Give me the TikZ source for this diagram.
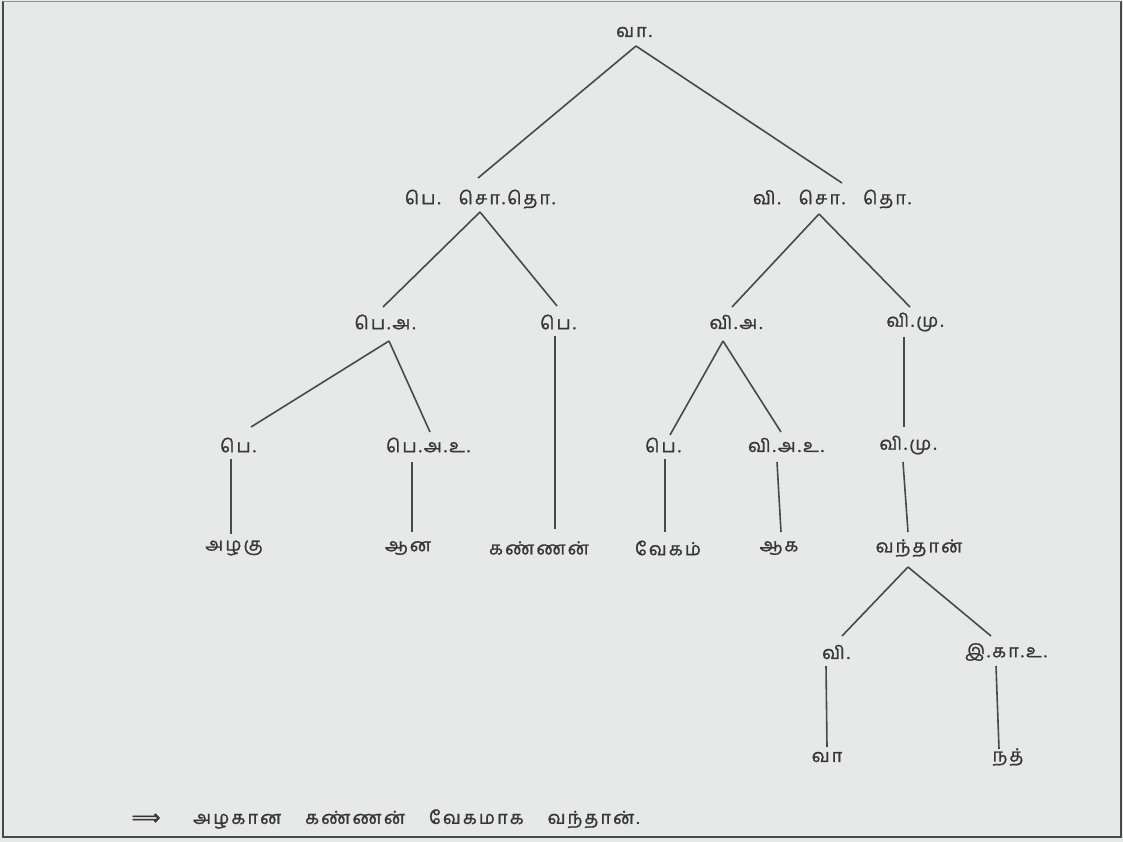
\documentclass[tikz,border=0pt]{standalone}
\usepackage{fontspec}
\newfontfamily\tam[Script=Tamil,LetterSpace=12,FakeBold=1.2]{Hind Madurai}
\newfontfamily\dvs[FakeBold=2.5]{DejaVu Sans}
\definecolor{bg}{HTML}{E7E9E9}
\definecolor{ink}{HTML}{3A3636}
\definecolor{ln}{HTML}{4A4848}
\begin{document}
\begin{tikzpicture}[x=1pt,y=-1pt,
  lab/.style={text=ink,font=\tam\fontsize{18}{21}\selectfont,inner sep=0pt,anchor=center},
  edge/.style={draw=ln,line width=1.6pt}]
\fill[bg] (0,0) rectangle (1123,842);
\useasboundingbox (0,0) rectangle (1123,842);
\draw[ln,line width=1.5pt] (3,1) -- (3,837) -- (1121,837) -- (1121,1);
\draw[ln!60,line width=0.8pt] (3,1) -- (1121,1);
% nodes
\node[lab] (n0) at (634,32) {வா.};
\node[lab] (n1) at (480,199) {பெ.\quad சொ.தொ.};
\node[lab] (n2) at (832,199) {வி.\quad சொ.\quad தொ.};
\node[lab] (n3) at (385,322) {பெ.அ.};
\node[lab] (n4) at (558,322) {பெ.};
\node[lab] (n5) at (736,322) {வி.அ.};
\node[lab] (n6) at (915,322) {வி.மு.};
\node[lab] (n7) at (238,445) {பெ.};
\node[lab] (n8) at (428,445) {பெ.அ.உ.};
\node[lab] (n9) at (663,445) {பெ.};
\node[lab] (n10) at (786,445) {வி.அ.உ.};
\node[lab] (n11) at (908,445) {வி.மு.};
\node[lab] (l1) at (234,548) {அழகு};
\node[lab] (l2) at (408,548) {ஆன};
\node[lab] (l3) at (539,548) {கண்ணன்};
\node[lab] (l4) at (668,548) {வேகம்};
\node[lab] (l5) at (779,548) {ஆக};
\node[lab] (l6) at (919,548) {வந்தான்};
\node[lab] (n12) at (836,652) {வி.};
\node[lab] (n13) at (1006,652) {இ.கா.உ.};
\node[lab] (l7) at (827,757) {வா};
\node[lab] (l8) at (1008,757) {நத்};
\node[text=ink,inner sep=0pt,font=\dvs\fontsize{20}{22}\selectfont] (arr) at (146,819) {⟹};
\node[lab,anchor=west] (sent) at (193,819) {அழகான\hspace{24pt}கண்ணன்\hspace{24pt}வேகமாக\hspace{24pt}வந்தான்.};
% edges
\draw[edge] ([shift={(2,14)}]n0.center) -- ([shift={(-2,-21)}]n1.center);
\draw[edge] ([shift={(2,14)}]n0.center) -- ([shift={(10,-16)}]n2.center);
\draw[edge] ([shift={(0,13)}]n1.center) -- ([shift={(-2,-15)}]n3.center);
\draw[edge] ([shift={(0,13)}]n1.center) -- ([shift={(-1,-16)}]n4.center);
\draw[edge] ([shift={(-13,15)}]n2.center) -- ([shift={(-4,-15)}]n5.center);
\draw[edge] ([shift={(-13,15)}]n2.center) -- ([shift={(-5,-15)}]n6.center);
\draw[edge] ([shift={(4,19)}]n3.center) -- ([shift={(13,-18)}]n7.center);
\draw[edge] ([shift={(4,19)}]n3.center) -- ([shift={(2,-13)}]n8.center);
\draw[edge] ([shift={(-3,14)}]n4.center) -- ([shift={(16,-19)}]l3.center);
\draw[edge] ([shift={(-13,19)}]n5.center) -- ([shift={(7,-10)}]n9.center);
\draw[edge] ([shift={(-13,19)}]n5.center) -- ([shift={(-5,-13)}]n10.center);
\draw[edge] ([shift={(-11,15)}]n6.center) -- ([shift={(-4,-18)}]n11.center);
\draw[edge] ([shift={(-7,14)}]n7.center) -- ([shift={(-3,-14)}]l1.center);
\draw[edge] ([shift={(-16,17)}]n8.center) -- ([shift={(4,-16)}]l2.center);
\draw[edge] ([shift={(2,14)}]n9.center) -- ([shift={(-3,-16)}]l4.center);
\draw[edge] ([shift={(-9,17)}]n10.center) -- ([shift={(2,-16)}]l5.center);
\draw[edge] ([shift={(-5,17)}]n11.center) -- ([shift={(-11,-16)}]l6.center);
\draw[edge] ([shift={(-11,19)}]l6.center) -- ([shift={(6,-16)}]n12.center);
\draw[edge] ([shift={(-11,19)}]l6.center) -- ([shift={(-15,-16)}]n13.center);
\draw[edge] ([shift={(-10,14)}]n12.center) -- ([shift={(0,-10)}]l7.center);
\draw[edge] ([shift={(-10,14)}]n13.center) -- ([shift={(-9,-8)}]l8.center);
\end{tikzpicture}
\end{document}
